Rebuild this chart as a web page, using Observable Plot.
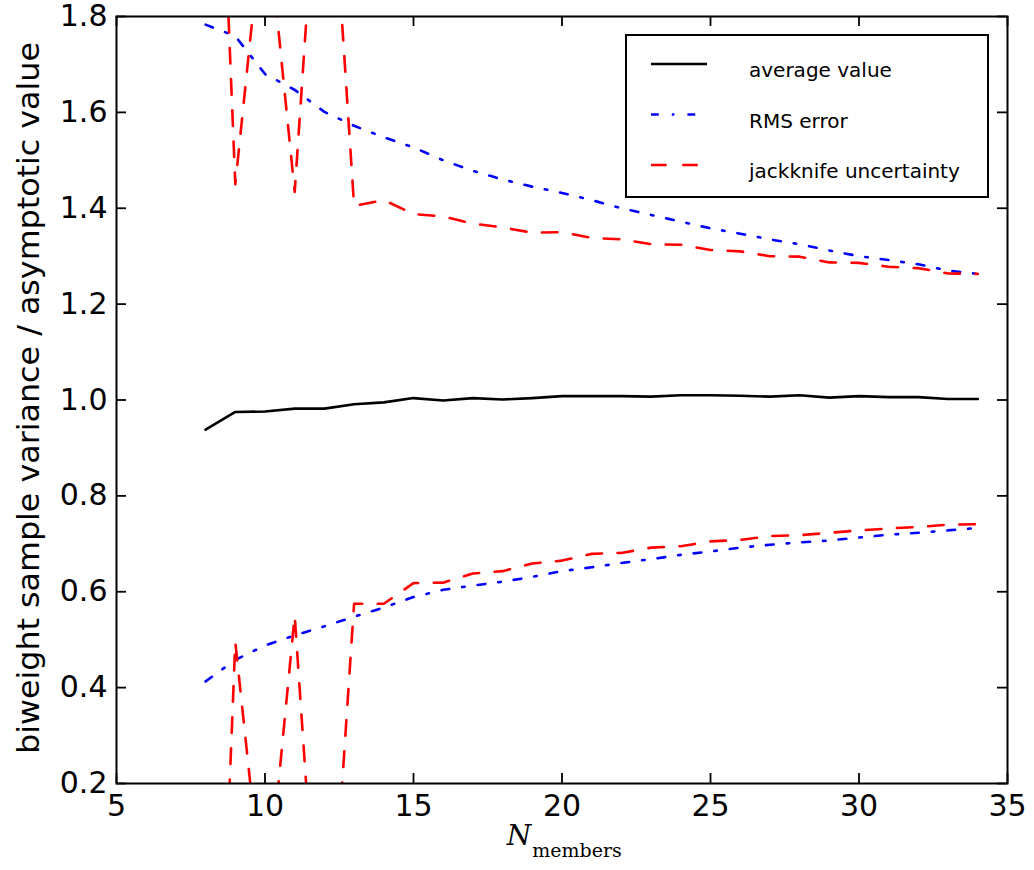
<!DOCTYPE html>
<html>
<head>
<meta charset="utf-8">
<script src="https://cdn.jsdelivr.net/npm/d3@7"></script>
<script src="https://cdn.jsdelivr.net/npm/@observablehq/plot@0.6"></script>
<style>
  html, body { margin: 0; padding: 0; background: #fff; }
  #chart svg { display: block; }
</style>
</head>
<body>
<div id="chart"></div>
<script>
// ---- data ----
const members = [8,9,10,11,12,13,14,15,16,17,18,19,20,21,22,23,24,25,26,27,28,29,30,31,32,33,34];
const averageValue = [0.938,0.975,0.976,0.982,0.982,0.991,0.995,1.004,0.999,1.004,1.001,1.004,1.008,1.008,1.008,1.007,1.010,1.010,1.009,1.007,1.010,1.005,1.008,1.006,1.006,1.002,1.002];
const rmsUpper = [1.783,1.759,1.680,1.647,1.601,1.572,1.548,1.527,1.500,1.478,1.460,1.445,1.432,1.417,1.400,1.386,1.372,1.358,1.347,1.335,1.325,1.312,1.300,1.292,1.283,1.270,1.263];
const rmsLower = [0.413,0.458,0.488,0.509,0.528,0.548,0.567,0.589,0.604,0.613,0.621,0.631,0.643,0.651,0.660,0.668,0.677,0.684,0.692,0.698,0.703,0.707,0.713,0.719,0.723,0.728,0.733];
const jackUpper = [2.97,1.45,2.05,1.434,2.35,1.405,1.417,1.388,1.383,1.368,1.360,1.349,1.350,1.338,1.335,1.325,1.324,1.313,1.310,1.300,1.299,1.287,1.286,1.278,1.275,1.264,1.263];
const jackLower = [-1.06,0.495,-0.09,0.55,-0.36,0.575,0.575,0.618,0.619,0.638,0.643,0.659,0.665,0.679,0.681,0.692,0.695,0.705,0.708,0.716,0.718,0.723,0.728,0.732,0.735,0.740,0.741];
const xTicks = [5,10,15,20,25,30,35];
const yTicks = [0.2,0.4,0.6,0.8,1.0,1.2,1.4,1.6,1.8];
const yLabel = "biweight sample variance / asymptotic value";
const xLabelMain = "N";
const xLabelSub = "members";
const legendLabels = ["average value", "RMS error", "jackknife uncertainty"];

// ---- layout / style ----
const W = 1034, H = 870;
const mL = 116, mR = 27, mT = 16, mB = 87;
const plotW = W - mL - mR, plotH = H - mT - mB;
const tickLen = 10;
const lw = 2.6;
const BLUE = "#0000ff", RED = "#ff0000";
const dashDot = "7.8,13,2.6,13";
const dashed = "15.6,15.6";

const lineOpts = {x: members, clip: true, strokeWidth: lw, strokeLinejoin: "round"};

const svg = Plot.plot({
  width: W,
  height: H,
  marginLeft: mL, marginRight: mR, marginTop: mT, marginBottom: mB,
  style: {fontFamily: "DejaVu Sans", fontSize: "30px", background: "#fff", color: "black"},
  x: {domain: [5, 35], label: null},
  y: {domain: [0.2, 1.8], label: null},
  marks: [
    Plot.line(members, {...lineOpts, y: averageValue, stroke: "black"}),
    Plot.line(members, {...lineOpts, y: rmsUpper, stroke: BLUE, strokeDasharray: dashDot}),
    Plot.line(members, {...lineOpts, y: rmsLower, stroke: BLUE, strokeDasharray: dashDot}),
    Plot.line(members, {...lineOpts, y: jackUpper, stroke: RED, strokeDasharray: dashed}),
    Plot.line(members, {...lineOpts, y: jackLower, stroke: RED, strokeDasharray: dashed}),
    // inward ticks on all four sides
    Plot.tickY(yTicks, {y: d => d, stroke: "black", strokeWidth: 1.8, insetRight: plotW - tickLen}),
    Plot.tickY(yTicks, {y: d => d, stroke: "black", strokeWidth: 1.8, insetLeft: plotW - tickLen}),
    Plot.tickX(xTicks, {x: d => d, stroke: "black", strokeWidth: 1.8, insetTop: plotH - tickLen}),
    Plot.tickX(xTicks, {x: d => d, stroke: "black", strokeWidth: 1.8, insetBottom: plotH - tickLen}),
    Plot.axisX(xTicks, {tickSize: 0, tickPadding: 11, fontSize: 30, label: null}),
    Plot.axisY(yTicks, {tickSize: 0, tickPadding: 9, fontSize: 30, label: null, tickFormat: d3.format(".1f")}),
    Plot.frame({stroke: "black", strokeWidth: 2}),
    Plot.text([yLabel], {text: d => d, frameAnchor: "left", textAnchor: "middle", dx: -87, dy: -2, rotate: -90, fontSize: 30, fill: "black", className: "ylab"}),
    Plot.text([xLabelMain], {text: d => d, frameAnchor: "bottom", dx: -43, dy: 61, fontSize: 28, fontFamily: "DejaVu Serif", fontStyle: "italic", fill: "black"}),
    Plot.text([xLabelSub], {text: d => d, frameAnchor: "bottom", dx: 15, dy: 73, fontSize: 19, fontFamily: "DejaVu Serif", fill: "black"})
  ]
});

// stretch y label to the reference's extent
d3.select(svg).selectAll(".ylab text")
  .attr("textLength", 712).attr("lengthAdjust", "spacingAndGlyphs");

// legend
const g = d3.select(svg).append("g");
g.append("rect").attr("x", 626).attr("y", 35).attr("width", 362).attr("height", 162)
  .attr("fill", "white").attr("stroke", "black").attr("stroke-width", 2);
const legStyles = [
  {stroke: "black", dash: null},
  {stroke: BLUE, dash: dashDot},
  {stroke: RED, dash: dashed}
];
legendLabels.forEach((lab, i) => {
  const yLine = 64 + i * 50.5;
  g.append("line").attr("x1", 651).attr("x2", 707).attr("y1", yLine).attr("y2", yLine)
    .attr("stroke", legStyles[i].stroke).attr("stroke-width", lw)
    .attr("stroke-dasharray", legStyles[i].dash);
  g.append("text").attr("x", 749).attr("y", 77 + i * 50.5)
    .attr("text-anchor", "start")
    .attr("font-family", "DejaVu Sans").attr("font-size", 20).attr("fill", "black").text(lab);
});

document.getElementById("chart").appendChild(svg);
</script>
</body>
</html>
